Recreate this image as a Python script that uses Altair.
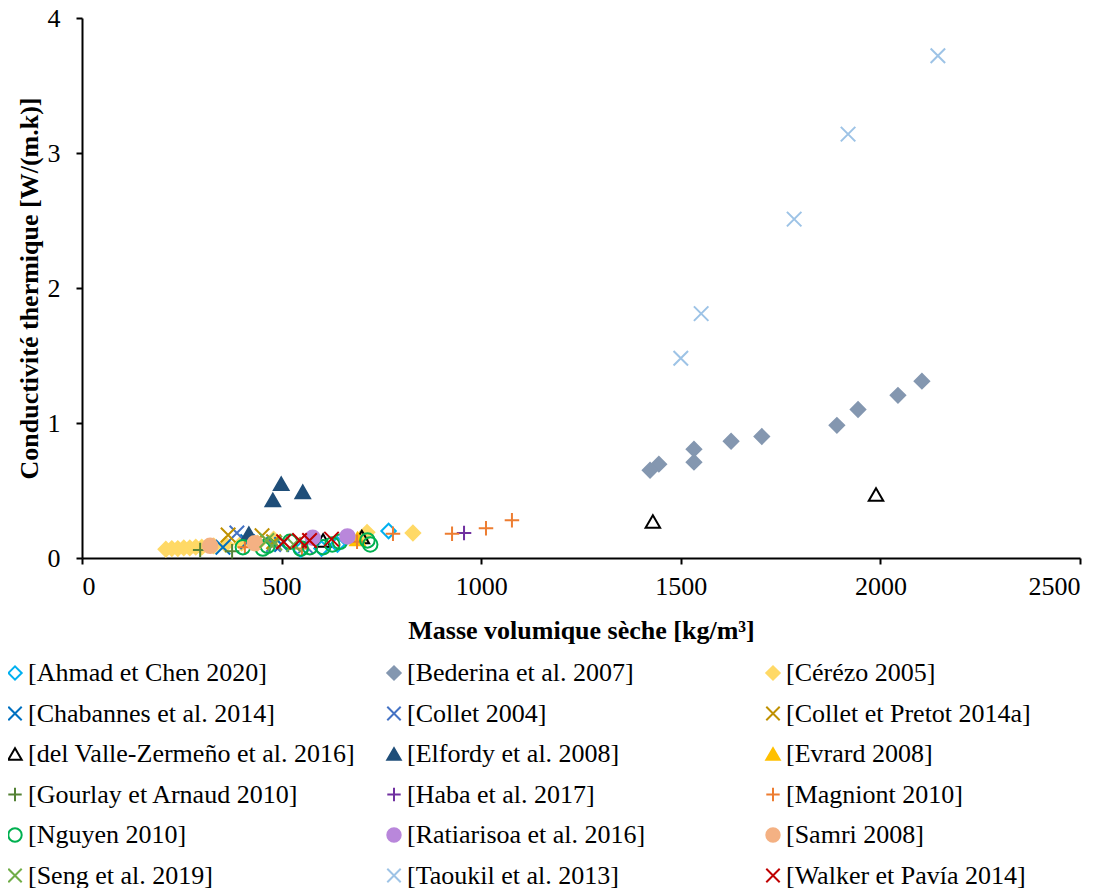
import altair as alt
import pandas as pd

series_names = [
    "[Ahmad et Chen 2020]", "[Bederina et al. 2007]", "[Cérézo 2005]",
    "[Chabannes et al. 2014]", "[Collet 2004]", "[Collet et Pretot 2014a]",
    "[del Valle-Zermeño et al. 2016]", "[Elfordy et al. 2008]", "[Evrard 2008]",
    "[Gourlay et Arnaud 2010]", "[Haba et al. 2017]", "[Magniont 2010]",
    "[Nguyen 2010]", "[Ratiarisoa et al. 2016]", "[Samri 2008]",
    "[Seng et al. 2019]", "[Taoukil et al. 2013]", "[Walker et Pavía 2014]",
]

ahmad_x = [548, 600, 640, 768]
ahmad_y = [0.06, 0.07, 0.10, 0.20]
bederina_x = [1423, 1445, 1533, 1533, 1626, 1703, 1891, 1944, 2044, 2104]
bederina_y = [0.65, 0.695, 0.71, 0.806, 0.865, 0.90, 0.983, 1.10, 1.205, 1.31]
cerezo_x = [210, 225, 240, 255, 270, 285, 300, 330, 360, 400, 440, 480, 700, 714, 829]
cerezo_y = [0.065, 0.07, 0.07, 0.075, 0.075, 0.08, 0.08, 0.09, 0.10, 0.11, 0.11, 0.14, 0.15, 0.19, 0.185]
chabannes_x = [353, 415, 500]
chabannes_y = [0.08, 0.12, 0.10]
collet_x = [388, 480, 560]
collet_y = [0.185, 0.10, 0.09]
colletp_x = [366, 451, 480]
colletp_y = [0.17, 0.165, 0.12]
delvalle_x = [604, 701, 1430, 1989]
delvalle_y = [0.13, 0.155, 0.27, 0.47]
elfordy_x = [418, 478, 499, 553]
elfordy_y = [0.18, 0.43, 0.55, 0.49]
evrard_x = [690]
evrard_y = [0.14]
gourlay_x = [296, 376]
gourlay_y = [0.06, 0.05]
haba_x = [957]
haba_y = [0.185]
magniont_x = [408, 551, 689, 779, 927, 1012, 1077]
magniont_y = [0.08, 0.07, 0.12, 0.18, 0.18, 0.22, 0.28]
nguyen_x = [403, 453, 465, 521, 548, 571, 604, 627, 646, 715, 722]
nguyen_y = [0.08, 0.07, 0.09, 0.12, 0.07, 0.08, 0.08, 0.10, 0.12, 0.13, 0.10]
ratiarisoa_x = [578, 665]
ratiarisoa_y = [0.15, 0.16]
samri_x = [321, 433]
samri_y = [0.09, 0.11]
seng_x = [463, 483, 530]
seng_y = [0.13, 0.11, 0.10]
taoukil_x = [1500, 1551, 1784, 1919, 2144]
taoukil_y = [1.48, 1.81, 2.51, 3.14, 3.72]
walker_x = [505, 545, 570, 625]
walker_y = [0.12, 0.13, 0.13, 0.14]

all_x = [ahmad_x, bederina_x, cerezo_x, chabannes_x, collet_x, colletp_x,
         delvalle_x, elfordy_x, evrard_x, gourlay_x, haba_x, magniont_x,
         nguyen_x, ratiarisoa_x, samri_x, seng_x, taoukil_x, walker_x]
all_y = [ahmad_y, bederina_y, cerezo_y, chabannes_y, collet_y, colletp_y,
         delvalle_y, elfordy_y, evrard_y, gourlay_y, haba_y, magniont_y,
         nguyen_y, ratiarisoa_y, samri_y, seng_y, taoukil_y, walker_y]

stroke_colors = ["#00B0F0", "#8497B0", "#FFD966", "#0070C0", "#4472C4", "#BF9000",
                 "#000000", "#1F4E79", "#FFC000", "#548235", "#7030A0", "#ED7D31",
                 "#00B050", "#B987DB", "#F4B183", "#70AD47", "#9DC3E6", "#C00000"]

XS = "M-1,-1L1,1M-1,1L1,-1"
PL = "M-1,0L1,0M0,-1L0,1"
shapes = ["diamond", "diamond", "diamond", XS, XS, XS,
          "triangle-up", "triangle-up", "triangle-up", PL, PL, PL,
          "circle", "circle", "circle", XS, XS, XS]
fills = ["transparent", "#8497B0", "#FFD966", "transparent", "transparent", "transparent",
         "transparent", "#1F4E79", "#FFC000", "transparent", "transparent", "transparent",
         "transparent", "#B987DB", "#F4B183", "transparent", "transparent", "transparent"]

rows = []
for i, name in enumerate(series_names):
    for xv, yv in zip(all_x[i], all_y[i]):
        rows.append({"series": name, "order": i, "x": xv, "y": yv})
df = pd.DataFrame(rows)

FONT = "Liberation Serif"

legend = alt.Legend(
    title=None, orient="none", legendX=-80, legendY=642, columns=3,
    direction="horizontal",
    labelFont=FONT, labelFontSize=26, labelColor="black", labelLimit=0,
    symbolSize=180, symbolStrokeWidth=2, rowPadding=14.5, columnPadding=25,
    gridAlign="all", labelOffset=0, padding=0,
)

chart = alt.Chart(df).mark_point(size=210, strokeWidth=2, opacity=1).encode(
    x=alt.X("x:Q", scale=alt.Scale(domain=[0, 2500], nice=False),
            axis=alt.Axis(title="Masse volumique sèche [kg/m³]",
                          values=[0, 500, 1000, 1500, 2000, 2500], format="d",
                          labelPadding=9, titlePadding=18)),
    y=alt.Y("y:Q", scale=alt.Scale(domain=[0, 4], nice=False),
            axis=alt.Axis(title="Conductivité thermique [W/(m.k)]",
                          values=[0, 1, 2, 3, 4], format="d",
                          labelPadding=16, titlePadding=5)),
    stroke=alt.Stroke("series:N", scale=alt.Scale(domain=series_names, range=stroke_colors), legend=legend),
    fill=alt.Fill("series:N", scale=alt.Scale(domain=series_names, range=fills), legend=legend),
    shape=alt.Shape("series:N", scale=alt.Scale(domain=series_names, range=shapes), legend=legend),
    order=alt.Order("order:Q"),
).properties(
    width=998, height=540,
    autosize=alt.AutoSizeParams(type="none"),
    padding={"left": 74, "top": 10, "right": 24, "bottom": 330},
).configure_axis(
    labelFont=FONT, labelFontSize=26, labelColor="black",
    titleFont=FONT, titleFontSize=26, titleFontWeight="bold", titleColor="black",
    domainColor="black", domainWidth=2, tickColor="black", tickWidth=2, tickSize=6,
    grid=False,
).configure_view(stroke=None)

chart.save("out.html", embed_options={"renderer": "svg", "actions": False})
